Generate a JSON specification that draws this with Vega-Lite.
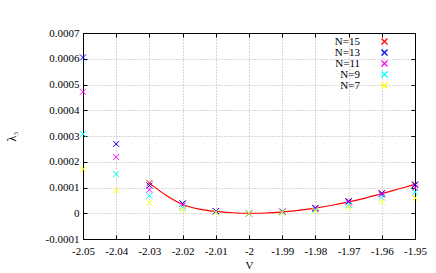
{
  "$schema": "https://vega.github.io/schema/vega-lite/v6.json",
  "autosize": "none",
  "width": 332,
  "height": 206,
  "padding": {"left": 83, "top": 33, "right": 21, "bottom": 34},
  "background": "white",
  "config": {
    "font": "Liberation Serif",
    "view": {"stroke": "black", "strokeWidth": 1},
    "axis": {
      "labelFont": "Liberation Serif",
      "titleFont": "Liberation Serif",
      "labelFontSize": 11,
      "titleFontSize": 11,
      "titleFontWeight": "normal",
      "labelColor": "black",
      "titleColor": "black",
      "domainColor": "black",
      "tickColor": "black",
      "gridColor": "#999999",
      "gridDash": [1, 2],
      "gridWidth": 0.8
    }
  },
  "datasets": {
    "pts": [
      {"V": -2.03, "L": 0.000117, "N": "N=15"},
      {"V": -2.02, "L": 0.000037, "N": "N=15"},
      {"V": -2.01, "L": 0.000008, "N": "N=15"},
      {"V": -2.0, "L": 0.0, "N": "N=15"},
      {"V": -1.99, "L": 0.000006, "N": "N=15"},
      {"V": -1.98, "L": 0.000021, "N": "N=15"},
      {"V": -1.97, "L": 0.000047, "N": "N=15"},
      {"V": -1.96, "L": 0.000078, "N": "N=15"},
      {"V": -1.95, "L": 0.000112, "N": "N=15"},
      {"V": -2.05, "L": 0.000605, "N": "N=13"},
      {"V": -2.04, "L": 0.000269, "N": "N=13"},
      {"V": -2.03, "L": 0.000108, "N": "N=13"},
      {"V": -2.02, "L": 0.000038, "N": "N=13"},
      {"V": -2.01, "L": 0.000008, "N": "N=13"},
      {"V": -2.0, "L": 0.0, "N": "N=13"},
      {"V": -1.99, "L": 0.000006, "N": "N=13"},
      {"V": -1.98, "L": 0.00002, "N": "N=13"},
      {"V": -1.97, "L": 0.000046, "N": "N=13"},
      {"V": -1.96, "L": 0.000077, "N": "N=13"},
      {"V": -1.95, "L": 0.00011, "N": "N=13"},
      {"V": -2.05, "L": 0.000472, "N": "N=11"},
      {"V": -2.04, "L": 0.000218, "N": "N=11"},
      {"V": -2.03, "L": 0.000091, "N": "N=11"},
      {"V": -2.02, "L": 0.00003, "N": "N=11"},
      {"V": -2.01, "L": 0.000006, "N": "N=11"},
      {"V": -2.0, "L": 0.0, "N": "N=11"},
      {"V": -1.99, "L": 0.000005, "N": "N=11"},
      {"V": -1.98, "L": 0.000018, "N": "N=11"},
      {"V": -1.97, "L": 0.000042, "N": "N=11"},
      {"V": -1.96, "L": 0.000072, "N": "N=11"},
      {"V": -1.95, "L": 0.000099, "N": "N=11"},
      {"V": -2.05, "L": 0.000308, "N": "N=9"},
      {"V": -2.04, "L": 0.000152, "N": "N=9"},
      {"V": -2.03, "L": 0.000068, "N": "N=9"},
      {"V": -2.02, "L": 0.000022, "N": "N=9"},
      {"V": -2.01, "L": 0.000005, "N": "N=9"},
      {"V": -2.0, "L": 0.0, "N": "N=9"},
      {"V": -1.99, "L": 0.000004, "N": "N=9"},
      {"V": -1.98, "L": 0.000014, "N": "N=9"},
      {"V": -1.97, "L": 0.000033, "N": "N=9"},
      {"V": -1.96, "L": 0.000061, "N": "N=9"},
      {"V": -1.95, "L": 0.000082, "N": "N=9"},
      {"V": -2.05, "L": 0.000171, "N": "N=7"},
      {"V": -2.04, "L": 0.000088, "N": "N=7"},
      {"V": -2.03, "L": 0.000042, "N": "N=7"},
      {"V": -2.02, "L": 0.000014, "N": "N=7"},
      {"V": -2.01, "L": 0.000003, "N": "N=7"},
      {"V": -2.0, "L": 0.0, "N": "N=7"},
      {"V": -1.99, "L": 0.000003, "N": "N=7"},
      {"V": -1.98, "L": 0.000009, "N": "N=7"},
      {"V": -1.97, "L": 0.000024, "N": "N=7"},
      {"V": -1.96, "L": 0.000045, "N": "N=7"},
      {"V": -1.95, "L": 0.000059, "N": "N=7"}
    ],
    "fit": [
      {"V": -2.03, "L": 0.000117},
      {"V": -2.025, "L": 0.00007},
      {"V": -2.02, "L": 0.000034},
      {"V": -2.015, "L": 0.000016},
      {"V": -2.01, "L": 0.000007},
      {"V": -2.005, "L": 0.000002},
      {"V": -2.0, "L": 0.0},
      {"V": -1.995, "L": 0.000001},
      {"V": -1.99, "L": 0.000005},
      {"V": -1.985, "L": 0.000011},
      {"V": -1.98, "L": 0.00002},
      {"V": -1.975, "L": 0.000031},
      {"V": -1.97, "L": 0.000044},
      {"V": -1.965, "L": 0.000059},
      {"V": -1.96, "L": 0.000076},
      {"V": -1.955, "L": 0.000094},
      {"V": -1.95, "L": 0.000112}
    ]
  },
  "layer": [
    {
      "layer": [
        {
          "data": {"name": "fit"},
          "mark": {"type": "line", "color": "#ff0000", "strokeWidth": 1.2, "interpolate": "monotone"},
          "encoding": {
            "x": {"field": "V", "type": "quantitative"},
            "y": {"field": "L", "type": "quantitative"}
          }
        },
        {
          "data": {"name": "pts"},
          "mark": {"type": "point", "shape": "M-1,-1L1,1M-1,1L1,-1", "filled": false, "strokeWidth": 1, "size": 36, "opacity": 1},
          "encoding": {
            "x": {"field": "V", "type": "quantitative"},
            "y": {"field": "L", "type": "quantitative"},
            "color": {
              "field": "N", "type": "nominal",
              "scale": {"domain": ["N=15", "N=13", "N=11", "N=9", "N=7"], "range": ["#ff0000", "#0000ff", "#ff00ff", "#00ffff", "#ffff00"]},
              "legend": {
                "title": null,
                "orient": "none",
                "legendX": 296,
                "legendY": 3,
                "padding": 0,
                "labelFont": "Liberation Serif",
                "labelFontSize": 11,
                "labelColor": "black",
                "labelAlign": "right",
                "labelOffset": -30,
                "rowPadding": -1.3,
                "symbolSize": 36,
                "symbolStrokeWidth": 1.2,
                "symbolOpacity": 1
              }
            }
          }
        }
      ],
      "encoding": {
        "x": {
          "field": "V", "type": "quantitative",
          "scale": {"domain": [-2.05, -1.95], "nice": false, "zero": false},
          "axis": {
            "orient": "bottom",
            "title": "V",
            "values": [-2.05, -2.04, -2.03, -2.02, -2.01, -2.0, -1.99, -1.98, -1.97, -1.96, -1.95],
            "labelExpr": "replace(format(datum.value, '.2~f'), '\u2212', '-')",
            "tickSize": -4,
            "labelPadding": 10,
            "titlePadding": 3,
            "grid": true,
            "labelFlush": false
          }
        },
        "y": {
          "field": "L", "type": "quantitative",
          "scale": {"domain": [-0.0001, 0.0007], "nice": false, "zero": false},
          "axis": {
            "orient": "left",
            "title": "λ₃",
            "values": [-0.0001, 0, 0.0001, 0.0002, 0.0003, 0.0004, 0.0005, 0.0006, 0.0007],
            "labelExpr": "replace(format(datum.value, '.4~f'), '\u2212', '-')",
            "tickSize": -4,
            "labelPadding": 8,
            "titlePadding": 27,
            "titleFontSize": 12,
            "grid": true,
            "labelFlush": false
          }
        }
      }
    },
    {
      "data": {"name": "fit"},
      "mark": {"type": "point", "opacity": 0},
      "encoding": {
        "x": {
          "field": "V", "type": "quantitative",
          "scale": {"domain": [-2.05, -1.95], "nice": false, "zero": false},
          "axis": {"orient": "top", "title": null, "labels": false, "values": [-2.05, -2.04, -2.03, -2.02, -2.01, -2.0, -1.99, -1.98, -1.97, -1.96, -1.95], "tickSize": -4, "grid": false}
        },
        "y": {
          "field": "L", "type": "quantitative",
          "scale": {"domain": [-0.0001, 0.0007], "nice": false, "zero": false},
          "axis": {"orient": "right", "title": null, "labels": false, "values": [-0.0001, 0, 0.0001, 0.0002, 0.0003, 0.0004, 0.0005, 0.0006, 0.0007], "tickSize": -4, "grid": false}
        }
      }
    }
  ],
  "resolve": {"scale": {"x": "independent", "y": "independent"}}
}
